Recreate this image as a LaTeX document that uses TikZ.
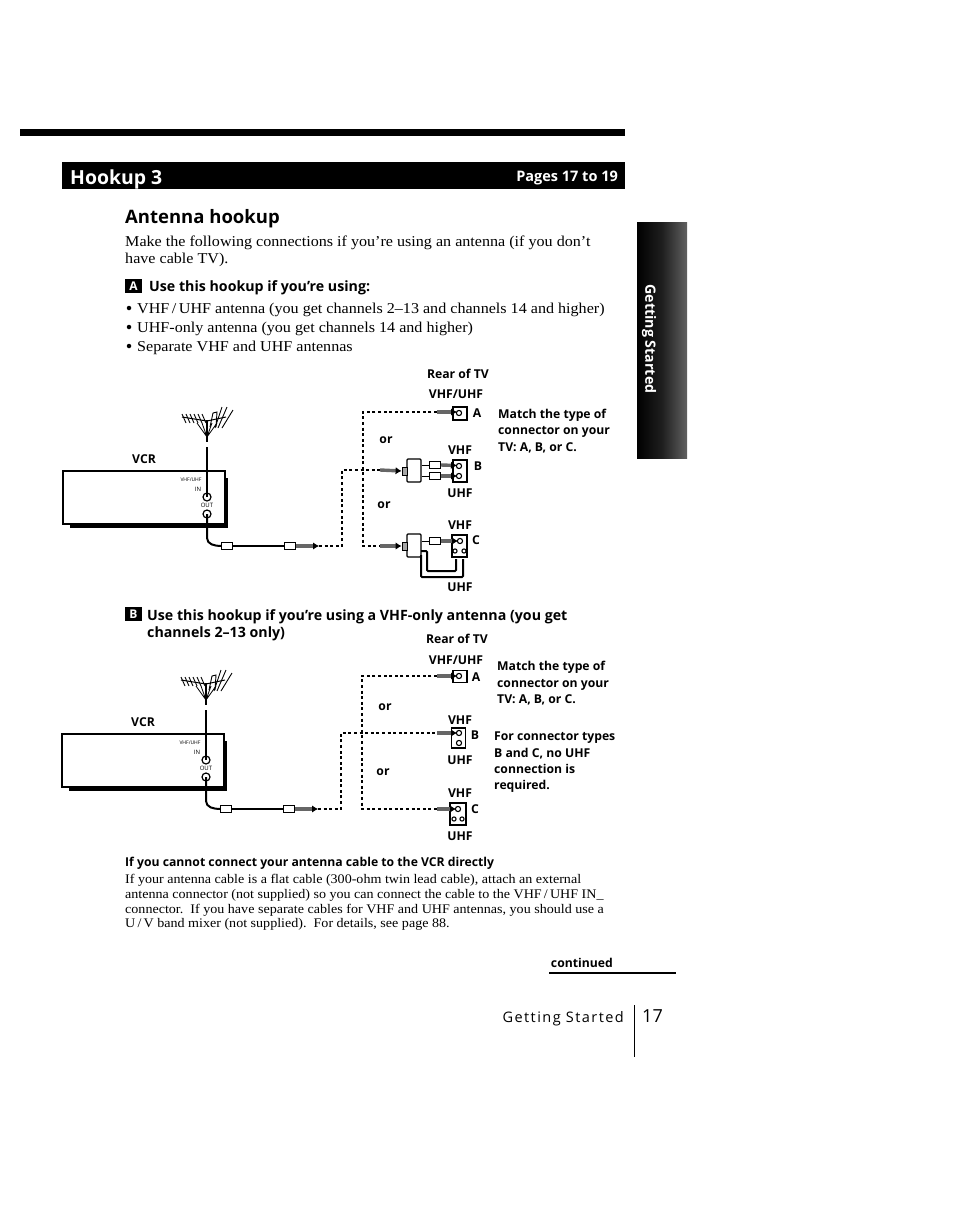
\documentclass[tikz,border=0pt]{standalone}
\usepackage{fontspec}
\setmainfont[FakeStretch=1.07]{Liberation Serif}
\setsansfont{Open Sans}
\usetikzlibrary{arrows.meta,positioning,calc}

\tikzset{
    vcrset/.pic={
        \draw[line width=1.3pt] (63,471) rectangle (225,524);
        \fill (70,524) rectangle (228,527.5);
        \fill (225,478) rectangle (228,527.5);
        \node[boldlabel] (-name) at (144,459) {VCR};
        \node[tinylabel, font=\sffamily\fontsize{5}{6}\selectfont] (-band) at (191,480) {VHF/UHF};
        \node[tinylabel] (-inlabel) at (198,489) {IN};
        \node[tinylabel] (-outlabel) at (207,505.5) {OUT};
        \node[vcrjack] (-in) at (207,497) {};
        \node[vcrjack] (-out) at (207,514) {};
        % antenna
        \coordinate (-mast) at (207,447);
        \draw[line width=2pt] (207,420) -- (207,442);
        \draw[line width=1pt] (182,417) -- (207,421) -- (226,417);
        \foreach \ax in {182,186,190,194,198,202}{
            \draw[line width=0.9pt] (\ax,414) -- (\ax+4,423);
        }
        \draw[line width=0.8pt] (207,437) -- (197,423) (207,437) -- (202,423)
            (207,437) -- (212,423) (207,437) -- (217,423);
        \draw[line width=0.9pt] (210,427) -- (213,413) -- (217,412) -- (216,427);
        \draw[line width=0.9pt] (215,428) -- (222,407) (218,428) -- (227,407) (222,428) -- (233,410);
        \draw[cablethick] (-mast) -- (-in.center);
        % cable to the plug
        \node[plugbox] (-plugl) at (227,546) {};
        \node[plugbox] (-plugr) at (290,546) {};
        \draw[cablethick] (-out.center) -- (207,538) to[out=-90,in=180] (-plugl.west);
        \draw[cablethick] (-plugl) -- (-plugr);
        \coordinate (-tip) at (319,546);
        \draw[plugarrow] (-plugr.east) -- (-tip);
    },
    tvjack/.pic={
        \draw[line width=1.1pt] (0,0) circle (2.6);
    }
}

\begin{document}
\begin{tikzpicture}[
        x=1pt, y=-1pt,
        bodytext/.style={anchor=west, inner sep=0pt, yshift=-2pt, font=\fontsize{15.05}{17}\selectfont},
        smalltext/.style={anchor=west, inner sep=0pt, yshift=-2pt, font=\fontsize{13.15}{15}\selectfont},
        boldlabel/.style={inner sep=0pt, font=\sffamily\bfseries\fontsize{12.2}{15}\selectfont},
        sidelabel/.style={boldlabel, anchor=west, align=left, yshift=-1pt, font=\sffamily\bfseries\fontsize{12.2}{16.4}\selectfont},
        tinylabel/.style={inner sep=0pt, font=\sffamily\fontsize{6}{7}\selectfont},
        subhead/.style={inner sep=0pt, anchor=west, yshift=-2pt, font=\sffamily\bfseries\fontsize{14.2}{17}\selectfont},
        letterbox/.style={fill=black, text=white, inner sep=0pt, minimum width=17pt, minimum height=14pt, font=\sffamily\bfseries\fontsize{12}{12}\selectfont},
        dotbullet/.style={circle, fill=black, inner sep=0pt, minimum size=4.5pt},
        vcrjack/.style={circle, draw, fill=white, line width=1.2pt, inner sep=0pt, minimum size=8pt},
        plugbox/.style={draw, fill=white, line width=1pt, inner sep=0pt, minimum width=11pt, minimum height=7pt},
        adapterbox/.style={draw, fill=white, line width=1.1pt, rounded corners=1pt, inner sep=0pt, minimum width=14pt, minimum height=23pt},
        stembox/.style={draw, fill=black!35, line width=0.8pt, inner sep=0pt, minimum width=5pt, minimum height=8pt},
        tvbox/.style={draw, fill=white, line width=1.3pt, inner sep=0pt, minimum width=14pt},
        dashline/.style={line width=1.4pt, dash pattern=on 3pt off 2.6pt},
        cablethick/.style={line width=2pt},
        plugarrow/.style={-{Latex[length=6pt,width=7.5pt,black]}, line width=3.4pt, black!60}
    ]
    \useasboundingbox (0,0) rectangle (954,1228);

    % page header
    \fill (20,129) rectangle (625,136);
    \node[fill=black, minimum width=563pt, minimum height=27pt, inner sep=0pt] (band) at (343.5,175.5) {};
    \node[anchor=west, text=white, inner sep=0pt, yshift=-3pt, font=\sffamily\bfseries\fontsize{19.4}{20}\selectfont] (hookup) at (70,176) {Hookup 3};
    \node[anchor=east, text=white, inner sep=0pt, yshift=-2pt, font=\sffamily\bfseries\fontsize{14.5}{15}\selectfont] (pages) at (618,176) {Pages 17 to 19};

    % side tab
    \shade[left color=black, right color=black!62, middle color=black!88] (637,222) rectangle (687,458);
    \node[rotate=-90, text=white, inner sep=0pt, font=\sffamily\bfseries\fontsize{14.2}{15}\selectfont] (tab) at (649,339) {Getting Started};

    % text above
    \node[anchor=west, inner sep=0pt, yshift=-3pt, font=\sffamily\bfseries\fontsize{18.5}{20}\selectfont] (title) at (125,216) {Antenna hookup};
    \node[bodytext] (intro1) at (125,241) {Make the following connections if you're using an antenna (if you don't};
    \node[bodytext] (intro2) at (125,258) {have cable TV).};
    \node[letterbox] (markA) at (133.5,286) {A};
    \node[subhead] (headA) at (149,286) {Use this hookup if you're using:};
    \node[dotbullet] (dot1) at (129,308) {};
    \node[bodytext] (item1) at (137,308) {VHF\,/\,UHF antenna (you get channels 2–13 and channels 14 and higher)};
    \node[dotbullet] (dot2) at (129,327) {};
    \node[bodytext] (item2) at (137,327) {UHF-only antenna (you get channels 14 and higher)};
    \node[dotbullet] (dot3) at (129,346) {};
    \node[bodytext] (item3) at (137,346) {Separate VHF and UHF antennas};

    % first hookup
    \pic (top) at (0,0) {vcrset};
    \node[boldlabel] (rear1) at (458,374) {Rear of TV};
    \node[boldlabel] (bandA1) at (456,394) {VHF/UHF};
    \node[tvbox, minimum height=13pt] (tvA1) at (460,413.5) {};
    \pic at (459,413) {tvjack};
    \node[boldlabel] (letA1) at (477,413) {A};
    \node[sidelabel] (match1) at (498,430) {Match the type of\\connector on your\\TV: A, B, or C.};
    \node[boldlabel] (or1a) at (386,440) {or};
    \node[boldlabel] (vhfB1) at (460,450) {VHF};
    \node[tvbox, minimum height=22pt] (tvB1) at (460,471) {};
    \pic at (459,466) {tvjack};
    \pic at (459,476) {tvjack};
    \node[boldlabel] (letB1) at (478,466) {B};
    \node[boldlabel] (uhfB1) at (460,493) {UHF};
    \node[boldlabel] (or1b) at (384,505) {or};
    \node[boldlabel] (vhfC1) at (460,525) {VHF};
    \node[tvbox, minimum width=15pt, minimum height=22pt] (tvC1) at (459.5,546) {};
    \pic at (460,541) {tvjack};
    \pic[scale=0.8] at (455,551) {tvjack};
    \pic[scale=0.8] at (464,551) {tvjack};
    \node[boldlabel] (letC1) at (476,540) {C};
    \node[boldlabel] (uhfC1) at (460,587) {UHF};

    \node[adapterbox] (splitB1) at (414,470.5) {};
    \node[stembox] (stemB1) at (404.5,471) {};
    \node[plugbox] (plugB1a) at (435,465) {};
    \node[plugbox] (plugB1b) at (435,476) {};
    \draw[line width=1pt] (splitB1.east |- plugB1a) -- (plugB1a);
    \draw[line width=1pt] (splitB1.east |- plugB1b) -- (plugB1b);
    \draw[plugarrow] (plugB1a.east) -- (457,465.5);
    \draw[plugarrow] (plugB1b.east) -- (457,476);

    \node[adapterbox] (splitC1) at (414,545.5) {};
    \node[stembox] (stemC1) at (404.5,546) {};
    \node[plugbox] (plugC1) at (435,541) {};
    \draw[line width=1pt] (splitC1.east |- plugC1) -- (plugC1);
    \draw[plugarrow] (plugC1.east) -- (458,541);
    \draw[cablethick, rounded corners=1pt] (421,551) -- (427,551) -- (427,571) -- (456,571) -- (456,559);
    \draw[cablethick, rounded corners=1pt] (421,555) -- (421,577) -- (463,577) -- (463,559);

    \coordinate (split1) at (342,470);
    \coordinate (riseA1) at (363,412);
    \coordinate (tailA1) at (437,412);
    \coordinate (tailB1) at (380,470);
    \coordinate (tailC1) at (380,546);
    \draw[dashline] (top-tip) -| (split1) -- (tailB1);
    \draw[dashline] (tailA1) -- (riseA1) |- (tailC1);
    \draw[plugarrow] (tailA1) -- (457,412);
    \draw[plugarrow] (tailB1) -- (stemB1.west);
    \draw[plugarrow] (tailC1) -- (stemC1.west);

    % second heading
    \node[letterbox] (markB) at (133.5,614) {B};
    \node[subhead, anchor=north west, align=left, font=\sffamily\bfseries\fontsize{14.2}{17.5}\selectfont] (headB) at (147,607) {Use this hookup if you're using a VHF-only antenna (you get\\channels 2–13 only)};

    % second hookup
    \pic (low) at (-1,263) {vcrset};
    \node[boldlabel] (rear2) at (457,639) {Rear of TV};
    \node[boldlabel] (bandA2) at (456,660) {VHF/UHF};
    \node[tvbox, minimum height=12pt] (tvA2) at (460,676.5) {};
    \pic at (459,676) {tvjack};
    \node[boldlabel] (letA2) at (476,677) {A};
    \node[sidelabel] (match2) at (497,682.5) {Match the type of\\connector on your\\TV: A, B, or C.};
    \node[boldlabel] (or2a) at (385,707) {or};
    \node[boldlabel] (vhfB2) at (460,720) {VHF};
    \node[tvbox, minimum height=20pt] (tvB2) at (458.5,738) {};
    \pic at (459,733) {tvjack};
    \pic at (459,743) {tvjack};
    \node[boldlabel] (letB2) at (475,735) {B};
    \node[sidelabel] (types) at (494,761.5) {For connector types\\B and C, no UHF\\connection is\\required.};
    \node[boldlabel] (uhfB2) at (460,760) {UHF};
    \node[boldlabel] (or2b) at (383,772) {or};
    \node[boldlabel] (vhfC2) at (460,793) {VHF};
    \node[tvbox, minimum width=16pt, minimum height=22pt] (tvC2) at (458,814) {};
    \pic at (458,809) {tvjack};
    \pic[scale=0.8] at (454,819) {tvjack};
    \pic[scale=0.8] at (462,819) {tvjack};
    \node[boldlabel] (letC2) at (475,809) {C};
    \node[boldlabel] (uhfC2) at (460,836) {UHF};

    \coordinate (split2) at (341,733);
    \coordinate (riseA2) at (362,676);
    \coordinate (tailA2) at (437,676);
    \coordinate (tailB2) at (437,733);
    \coordinate (tailC2) at (437,809);
    \draw[dashline] (low-tip) -| (split2) -- (tailB2);
    \draw[dashline] (tailA2) -- (riseA2) |- (tailC2);
    \draw[plugarrow] (tailA2) -- (457,676);
    \draw[plugarrow] (tailB2) -- (457,733);
    \draw[plugarrow] (tailC2) -- (456,809);

    % note below
    \node[subhead, font=\sffamily\bfseries\fontsize{12.2}{14}\selectfont] (noteh) at (125,861) {If you cannot connect your antenna cable to the VCR directly};
    \node[smalltext] (note1) at (125,878) {If your antenna cable is a flat cable (300-ohm twin lead cable), attach an external};
    \node[smalltext] (note2) at (125,893) {antenna connector (not supplied) so you can connect the cable to the VHF\,/\,UHF IN\_};
    \node[smalltext] (note3) at (125,908) {connector.\ \ If you have separate cables for VHF and UHF antennas, you should use a};
    \node[smalltext] (note4) at (125,922) {U\,/\,V band mixer (not supplied).\ \ For details, see page 88.};

    % page foot
    \node[boldlabel, anchor=east] (cont) at (613,963) {continued};
    \draw[line width=1.4pt] (549,973) -- (676,973);
    \node[anchor=east, inner sep=0pt, yshift=-2pt, font=\sffamily\fontsize{14.5}{15}\selectfont\addfontfeature{LetterSpace=10}] (foot) at (624,1017) {Getting Started};
    \draw[line width=0.7pt] (634,1005) -- (634,1057);
    \node[anchor=west, inner sep=0pt, font=\sffamily\fontsize{18}{20}\selectfont] (pagenum) at (642,1016) {17};
\end{tikzpicture}
\end{document}
